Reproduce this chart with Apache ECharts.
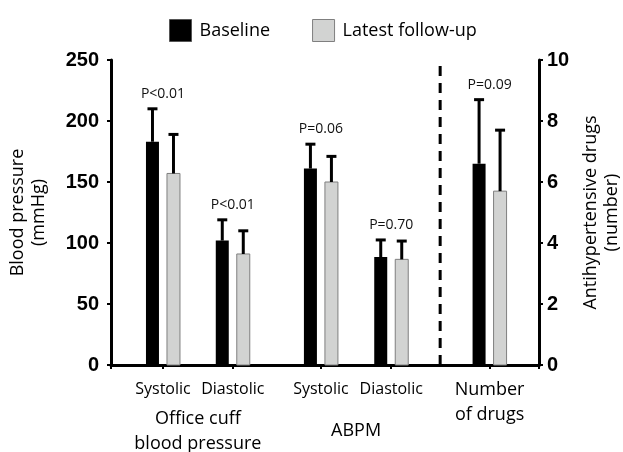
<!DOCTYPE html>
<html><head><meta charset="utf-8">
<script src="https://cdn.jsdelivr.net/npm/echarts@6/dist/echarts.min.js"></script>
<style>html,body{margin:0;padding:0;background:#fff}#c{width:623px;height:452px}</style>
</head><body><div id="c"></div>
<script>
// ---- data ----
const categories = ['Systolic', 'Diastolic', 'Systolic', 'Diastolic', 'Number\nof drugs'];
const groupNames = ['Office cuff\nblood pressure', 'ABPM'];
const seriesNames = ['Baseline', 'Latest follow-up'];
const baseline = [183, 102, 161, 88.5, 6.6];
const baselineErr = [27, 17, 20, 14, 2.1];
const followup = [157, 91, 150, 86.6, 5.7];
const followupErr = [32, 19, 21, 15, 2.0];
const pValues = ['P<0.01', 'P<0.01', 'P=0.06', 'P=0.70', 'P=0.09'];
const bpTicks = [0, 50, 100, 150, 200, 250];
const drugTicks = [0, 2, 4, 6, 8, 10];

// ---- layout (not data) ----
const catPos = [1.02, 2.39, 4.12, 5.50, 7.43];
const xMax = 8.4;
const dividerPos = 6.46;
const groupMembers = [[0, 1], [2, 3]];
const bpIdx = [0, 1, 2, 3];
const drugIdx = [4];
const groupPos = groupMembers.map(g => (catPos[g[0]] + catPos[g[g.length - 1]]) / 2);
const FONT = 'Open Sans';

function barRenderer(offsetPx, fill, stroke) {
  return function (params, api) {
    const x = api.value(0), v = api.value(1), e = api.value(2);
    const p0 = api.coord([x, 0]), p1 = api.coord([x, v]), p2 = api.coord([x, v + e]);
    const cx = p0[0] + offsetPx, w = 13;
    return {
      type: 'group', children: [
        { type: 'rect', shape: { x: cx - w / 2, y: p1[1], width: w, height: p0[1] - p1[1] },
          style: { fill: fill, stroke: stroke || null, lineWidth: stroke ? 1 : 0 } },
        { type: 'line', shape: { x1: cx, y1: p1[1], x2: cx, y2: p2[1] }, style: { stroke: '#000', lineWidth: 3 } },
        { type: 'line', shape: { x1: cx - 5, y1: p2[1], x2: cx + 5, y2: p2[1] }, style: { stroke: '#000', lineWidth: 3 } }
      ]
    };
  };
}
function pRenderer(params, api) {
  const x = api.value(0), top = api.value(1), i = api.value(2);
  const p = api.coord([x, top]);
  return { type: 'text', style: { text: pValues[i], x: p[0], y: p[1] - 15, align: 'center', verticalAlign: 'middle',
    fontSize: 14, fontFamily: FONT, fill: '#111' } };
}
function rows(idx, vals, errs) { return idx.map(i => [catPos[i], vals[i], errs[i]]); }
function pRows(idx) { return idx.map(i => [catPos[i], Math.max(baseline[i] + baselineErr[i], followup[i] + followupErr[i]), i]); }

const BLACK = '#000', GREY = '#d2d3d2', GREY_EDGE = '#7f7f7f';
const labelLookup = v => catPos.findIndex(c => Math.abs(c - v) < 1e-6);

const yAxisCommon = {
  type: 'value', splitLine: { show: false },
  axisLine: { show: true, onZero: false, lineStyle: { color: '#000', width: 3 } },
  axisTick: { show: true, inside: false, length: 4, lineStyle: { color: '#000', width: 2 } },
  nameLocation: 'middle', nameRotate: 90,
  nameTextStyle: { fontFamily: FONT, fontSize: 18, color: '#000', lineHeight: 21 }
};

const option = {
  animation: false,
  backgroundColor: '#fff',
  legend: {
    top: 14, left: 164, icon: 'rect', itemWidth: 22, itemHeight: 22, itemGap: 42,
    textStyle: { fontFamily: FONT, fontSize: 18, color: '#000', padding: [0, 0, 0, 3] },
    data: [
      { name: seriesNames[0], itemStyle: { color: BLACK, borderColor: '#555', borderWidth: 1 } },
      { name: seriesNames[1], itemStyle: { color: GREY, borderColor: GREY_EDGE, borderWidth: 1 } }
    ]
  },
  grid: { left: 111, right: 84, top: 60, bottom: 87, outerBoundsMode: 'none', containLabel: false },
  xAxis: [{
    type: 'value', min: 0, max: xMax, splitLine: { show: false },
    axisLine: { show: true, onZero: false, lineStyle: { color: '#000', width: 3 } },
    axisTick: { show: true, length: 4, lineStyle: { color: '#000', width: 2 }, customValues: [0].concat(catPos, [xMax]) },
    axisLabel: {
      customValues: catPos, margin: 12, color: '#000',
      formatter: v => { const i = labelLookup(v); if (i < 0) return '';
        return categories[i].split('\n').map(s => (i === drugIdx[0] ? '{n|' : '{s|') + s + '}').join('\n'); },
      rich: {
        s: { fontFamily: FONT, fontSize: 16, lineHeight: 25, color: '#000' },
        n: { fontFamily: FONT, fontSize: 18, lineHeight: 25, color: '#000' }
      }
    }
  }, {
    type: 'value', min: 0, max: xMax, position: 'bottom', splitLine: { show: false },
    axisLine: { show: false }, axisTick: { show: false },
    axisLabel: {
      customValues: groupPos, margin: 66, verticalAlign: 'middle', color: '#000',
      fontFamily: FONT, fontSize: 18, lineHeight: 25,
      formatter: v => { const i = groupPos.findIndex(c => Math.abs(c - v) < 1e-6); return i < 0 ? '' : groupNames[i]; }
    }
  }],
  yAxis: [Object.assign({}, yAxisCommon, {
    position: 'left', min: bpTicks[0], max: bpTicks[bpTicks.length - 1], interval: bpTicks[1] - bpTicks[0],
    name: 'Blood pressure\n(mmHg)', nameGap: 62,
    axisLabel: { margin: 12, fontFamily: 'Liberation Sans', fontWeight: 'bold', fontSize: 20, color: '#000' }
  }), Object.assign({}, yAxisCommon, {
    position: 'right', min: drugTicks[0], max: drugTicks[drugTicks.length - 1], interval: drugTicks[1] - drugTicks[0],
    name: 'Antihypertensive drugs\n(number)', nameGap: 41,
    axisLabel: { margin: 8, fontFamily: 'Liberation Sans', fontWeight: 'bold', fontSize: 20, color: '#000' }
  })],
  series: [
    { type: 'custom', name: seriesNames[0], xAxisIndex: 0, yAxisIndex: 0, itemStyle: { color: BLACK },
      encode: { x: 0, y: 1 }, renderItem: barRenderer(-10.5, BLACK), data: rows(bpIdx, baseline, baselineErr) },
    { type: 'custom', name: seriesNames[1], xAxisIndex: 0, yAxisIndex: 0, itemStyle: { color: GREY },
      encode: { x: 0, y: 1 }, renderItem: barRenderer(10.5, GREY, GREY_EDGE), data: rows(bpIdx, followup, followupErr) },
    { type: 'custom', name: seriesNames[0], xAxisIndex: 0, yAxisIndex: 1, itemStyle: { color: BLACK },
      encode: { x: 0, y: 1 }, renderItem: barRenderer(-10.5, BLACK), data: rows(drugIdx, baseline, baselineErr) },
    { type: 'custom', name: seriesNames[1], xAxisIndex: 0, yAxisIndex: 1, itemStyle: { color: GREY },
      encode: { x: 0, y: 1 }, renderItem: barRenderer(10.5, GREY, GREY_EDGE), data: rows(drugIdx, followup, followupErr) },
    { type: 'custom', name: 'pBP', xAxisIndex: 0, yAxisIndex: 0, encode: { x: 0, y: 1 }, renderItem: pRenderer, data: pRows(bpIdx) },
    { type: 'custom', name: 'pDrug', xAxisIndex: 0, yAxisIndex: 1, encode: { x: 0, y: 1 }, renderItem: pRenderer, data: pRows(drugIdx) },
    { type: 'custom', name: 'divider', xAxisIndex: 0, yAxisIndex: 0, encode: { x: 0, y: 1 },
      data: [[dividerPos, bpTicks[bpTicks.length - 1]]],
      renderItem: (params, api) => {
        const a = api.coord([api.value(0), 0]), b = api.coord([api.value(0), api.value(1)]);
        return { type: 'line', shape: { x1: a[0], y1: a[1], x2: b[0], y2: b[1] + 4 },
          style: { stroke: '#000', lineWidth: 3, lineDash: [10, 7] } };
      } }
  ]
};
echarts.init(document.getElementById('c'), null, { renderer: 'canvas' }).setOption(option);
</script></body></html>
